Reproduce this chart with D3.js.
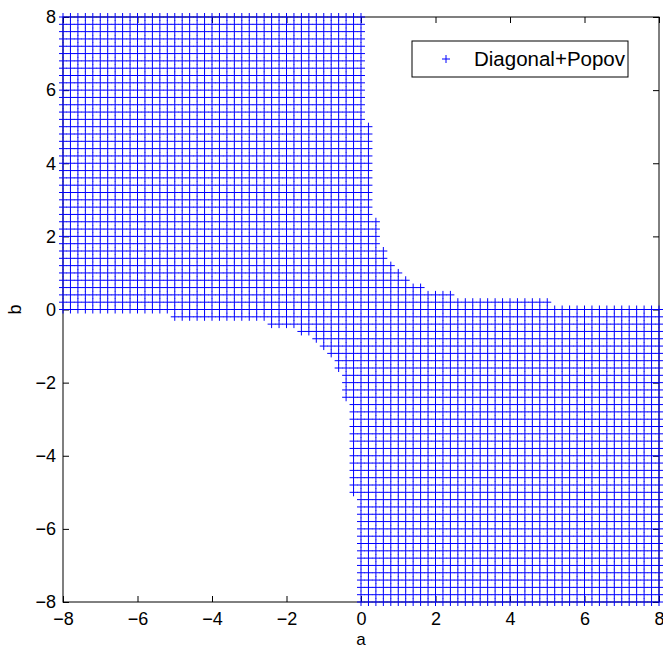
<!DOCTYPE html>
<html><head><meta charset="utf-8">
<script src="https://cdn.jsdelivr.net/npm/d3@7/dist/d3.min.js"></script>
<style>
body{margin:0;background:#fff}
svg text{font-family:"Liberation Sans",Arial,Helvetica,sans-serif;fill:#000}
</style>
</head><body>
<svg id="chart" width="663" height="647"></svg>
<script>
// ---- data ----
const xDomain = [-8, 8];
const yDomain = [-8, 8];
const tickValues = [-8, -6, -4, -2, 0, 2, 4, 6, 8];
const gridStep = 0.2;              // spacing of the sampled (a,b) grid
const seriesName = "Diagonal+Popov";
const xLabel = "a", yLabel = "b";

// rows with b > 0 : largest a that is marked in the row (everything to the left is marked)
const upperRowB    = [0.2,0.4,0.6,0.8,1.0,1.2,1.4,1.6,1.8,2.0,2.2,2.4,2.6,2.8,3.0,3.2,3.4,3.6,3.8,4.0,
                      4.2,4.4,4.6,4.8,5.0,5.2,5.4,5.6,5.8,6.0,6.2,6.4,6.6,6.8,7.0,7.2,7.4,7.6,7.8,8.0];
const upperRowMaxA = [5.0,2.4,1.6,1.2,1.0,0.8,0.6,0.6,0.4,0.4,0.4,0.4,0.2,0.2,0.2,0.2,0.2,0.2,0.2,0.2,
                      0.2,0.2,0.2,0.2,0.2,0,0,0,0,0,0,0,0,0,0,0,0,0,0,0];
// rows with b < 0 : smallest a that is marked in the row (everything to the right is marked)
const lowerRowB    = [-0.2,-0.4,-0.6,-0.8,-1.0,-1.2,-1.4,-1.6,-1.8,-2.0,-2.2,-2.4,-2.6,-2.8,-3.0,-3.2,-3.4,-3.6,-3.8,-4.0,
                      -4.2,-4.4,-4.6,-4.8,-5.0,-5.2,-5.4,-5.6,-5.8,-6.0,-6.2,-6.4,-6.6,-6.8,-7.0,-7.2,-7.4,-7.6,-7.8,-8.0];
const lowerRowMinA = [-5.0,-2.4,-1.6,-1.2,-1.0,-0.8,-0.6,-0.6,-0.4,-0.4,-0.4,-0.4,-0.2,-0.2,-0.2,-0.2,-0.2,-0.2,-0.2,-0.2,
                      -0.2,-0.2,-0.2,-0.2,-0.2,0,0,0,0,0,0,0,0,0,0,0,0,0,0,0];
// row b = 0 is marked over the full a range

// ---- build the marked grid points ----
const nHalf = Math.round(xDomain[1] / gridStep);
const aValues = d3.range(-nHalf, nHalf + 1).map(i => +(i * gridStep).toFixed(1));
const points = [];
aValues.forEach(a => points.push({a, b: 0}));
upperRowB.forEach((b, k) => aValues.forEach(a => { if (a <= upperRowMaxA[k] + 1e-9) points.push({a, b}); }));
lowerRowB.forEach((b, k) => aValues.forEach(a => { if (a >= lowerRowMinA[k] - 1e-9) points.push({a, b}); }));

// ---- drawing ----
const svg = d3.select("#chart");
svg.append("rect").attr("width", 663).attr("height", 647).attr("fill", "#fff");

const x = d3.scaleLinear().domain(xDomain).range([63, 659]);
const y = d3.scaleLinear().domain(yDomain).range([602, 17]);
const fs = 18;
const minusFmt = d => (d < 0 ? "\u2212" + Math.abs(d) : String(d));

function styleAxis(g) {
  g.select(".domain").remove();
  g.selectAll(".tick line").attr("stroke", "#000").attr("stroke-width", 1);
  g.selectAll(".tick text").attr("font-size", fs).attr("font-family", '"Liberation Sans",Arial,sans-serif').attr("fill", "#000");
}
svg.append("g").attr("transform", `translate(0,${y(-8)})`)
  .call(d3.axisBottom(x).tickValues(tickValues).tickSizeInner(-6).tickSizeOuter(0).tickPadding(10).tickFormat(minusFmt))
  .call(styleAxis);
svg.append("g").attr("transform", `translate(0,${y(8)})`)
  .call(d3.axisTop(x).tickValues(tickValues).tickSizeInner(-6).tickSizeOuter(0).tickFormat(""))
  .call(styleAxis);
svg.append("g").attr("transform", `translate(${x(-8)},0)`)
  .call(d3.axisLeft(y).tickValues(tickValues).tickSizeInner(-6).tickSizeOuter(0).tickPadding(7).tickFormat(minusFmt))
  .call(styleAxis);
svg.append("g").attr("transform", `translate(${x(8)},0)`)
  .call(d3.axisRight(y).tickValues(tickValues).tickSizeInner(-6).tickSizeOuter(0).tickFormat(""))
  .call(styleAxis);

svg.append("rect")
  .attr("x", x(-8)).attr("y", y(8))
  .attr("width", x(8) - x(-8)).attr("height", y(-8) - y(8))
  .attr("fill", "none").attr("stroke", "#000").attr("stroke-width", 1);

// markers
const h = 4;
svg.append("g").attr("class", "markers")
  .selectAll("path").data(points).join("path")
  .attr("d", d => `M${x(d.a) - h},${y(d.b)}H${x(d.a) + h}M${x(d.a)},${y(d.b) - h}V${y(d.b) + h}`)
  .attr("stroke", "#0000ff").attr("stroke-width", 1).attr("fill", "none");

// axis labels
svg.append("text").attr("x", (x(-8) + x(8)) / 2).attr("y", 645)
  .attr("text-anchor", "middle").attr("font-size", 17).text(xLabel);
svg.append("text").attr("transform", `translate(21,${(y(-8) + y(8)) / 2}) rotate(-90)`)
  .attr("text-anchor", "middle").attr("font-size", fs).text(yLabel);

// legend
const lg = svg.append("g").attr("class", "legend");
lg.append("rect").attr("x", 412).attr("y", 41).attr("width", 216).attr("height", 36)
  .attr("fill", "#fff").attr("stroke", "#000").attr("stroke-width", 1);
lg.append("path").attr("d", `M${446 - h},59H${446 + h}M446,${59 - h}V${59 + h}`)
  .attr("stroke", "#0000ff").attr("stroke-width", 1);
lg.append("text").attr("x", 474).attr("y", 66).attr("font-size", 20.5).text(seriesName);
</script>
</body></html>
